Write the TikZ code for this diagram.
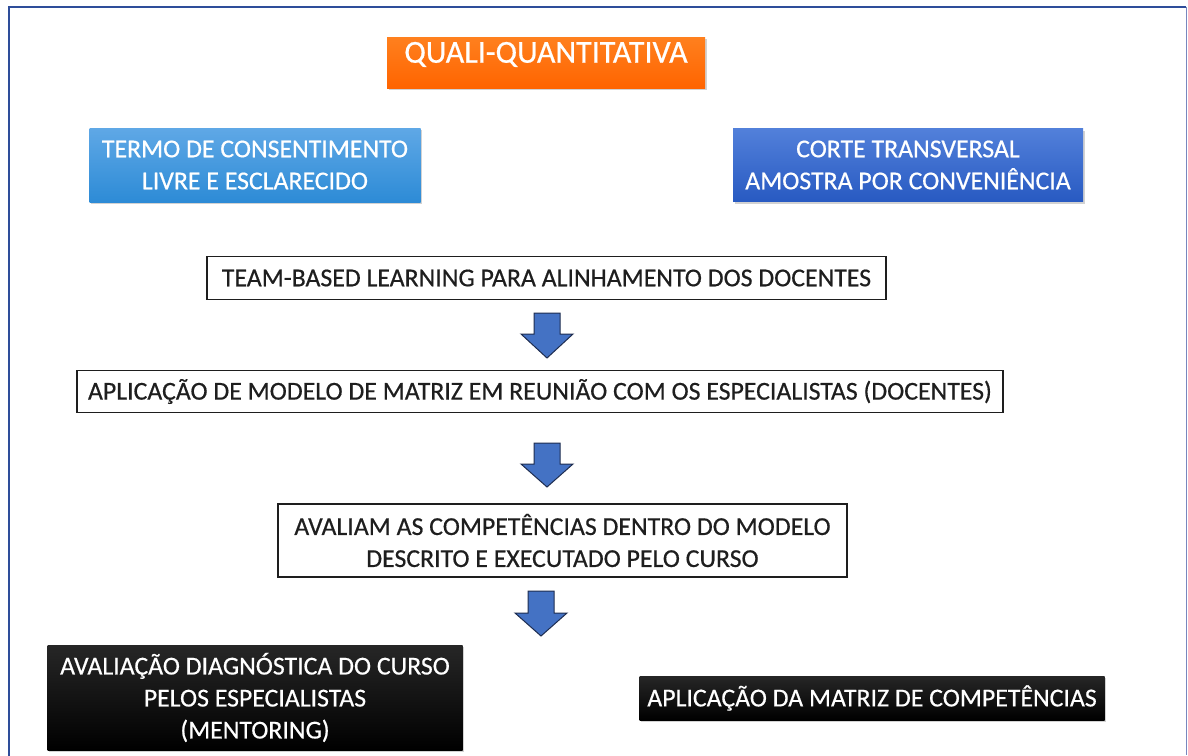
\documentclass[tikz,border=0pt]{standalone}
\usepackage{fontspec}
\setmainfont{Carlito}
\newfontfamily\heavy{Carlito}[FakeBold=0.5]
\usetikzlibrary{shadows}
\definecolor{frameblue}{RGB}{46,77,154}
\definecolor{framelight}{RGB}{120,135,190}
\definecolor{orangeT}{RGB}{255,128,30}
\definecolor{orangeB}{RGB}{255,100,0}
\definecolor{lblueT}{RGB}{95,168,230}
\definecolor{lblueB}{RGB}{45,139,214}
\definecolor{dblueT}{RGB}{82,128,218}
\definecolor{dblueB}{RGB}{40,90,194}
\definecolor{arrowfill}{RGB}{68,114,196}
\definecolor{arrowline}{RGB}{30,45,80}
\definecolor{txt}{RGB}{30,30,30}
\tikzset{
  x=1pt, y=-1pt,
  base/.style={rectangle, inner sep=0pt, align=center, font=\heavy\fontsize{25.8}{32}\selectfont},
  colbox/.style={base, text=white, drop shadow={shadow xshift=1.5pt, shadow yshift=-2pt, opacity=0.35}},
  whitebox/.style={base, draw=txt, line width=1.2pt, fill=white, text=txt},
  blockarrow/.style={fill=arrowfill, draw=arrowline, line width=1pt, line join=miter},
}
\begin{document}
\begin{tikzpicture}
\useasboundingbox (0,0) rectangle (1188,755);
\fill[white] (0,0) rectangle (1188,755);
% frame
\draw[framelight, line width=1pt] (1186,7) -- (1186,755);
\draw[frameblue, line width=2.5pt] (9,760) -- (9,7) -- (1186,7);

% title
\node[colbox, top color=orangeT, bottom color=orangeB, minimum width=318pt, text height=25.5pt, text depth=25.5pt, font=\heavy\fontsize{32}{36}\selectfont] (quali) at (546,37) [anchor=north] {QUALI-QUANTITATIVA};

% top row
\node[colbox, top color=lblueT, bottom color=lblueB, minimum width=331pt, minimum height=74pt] (termo) at (255,165) {TERMO DE CONSENTIMENTO\\LIVRE E ESCLARECIDO};
\node[colbox, top color=dblueT, bottom color=dblueB, minimum width=350pt, minimum height=73pt] (corte) at (908,165) {CORTE TRANSVERSAL\\AMOSTRA POR CONVENIÊNCIA};

% steps
\node[whitebox, minimum width=679pt, minimum height=43pt] (team) at (546.5,278) {TEAM-BASED LEARNING PARA ALINHAMENTO DOS DOCENTES};
\node[whitebox, minimum width=926pt, minimum height=42pt] (modelo) at (540,391.5) {APLICAÇÃO DE MODELO DE MATRIZ EM REUNIÃO COM OS ESPECIALISTAS (DOCENTES)};
\node[whitebox, minimum width=569pt, minimum height=73pt] (avaliam) at (562.5,540.5) {AVALIAM AS COMPETÊNCIAS DENTRO DO MODELO\\DESCRITO E EXECUTADO PELO CURSO};

% arrows
\draw[blockarrow] (534,313) -- (560,313) -- (560,334) -- (573,334) -- (547,358) -- (521,334) -- (534,334) -- cycle;
\draw[blockarrow] (534,443) -- (560,443) -- (560,464) -- (573,464) -- (547,487) -- (521,464) -- (534,464) -- cycle;
\draw[blockarrow] (528,591) -- (554,591) -- (554,613) -- (567,613) -- (541,636) -- (515,613) -- (528,613) -- cycle;

% bottom row
\node[colbox, top color=black!85, bottom color=black, minimum width=415pt, minimum height=105pt] (diag) at (255,697.5) {AVALIAÇÃO DIAGNÓSTICA DO CURSO\\PELOS ESPECIALISTAS\\(MENTORING)};
\node[colbox, top color=black!85, bottom color=black, minimum width=465pt, minimum height=44pt] (matriz) at (872,698) {APLICAÇÃO DA MATRIZ DE COMPETÊNCIAS};
\end{tikzpicture}
\end{document}
